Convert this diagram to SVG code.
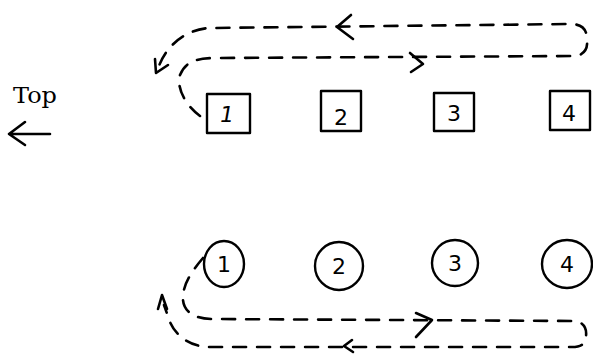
<svg xmlns="http://www.w3.org/2000/svg" width="593" height="355" viewBox="0 0 593 355">
<style>
.box{fill:none;stroke:#000;stroke-width:2.4;stroke-linejoin:round}
.dig{font-family:"DejaVu Sans",sans-serif;font-size:22px;fill:#000;text-anchor:middle}
.dash{fill:none;stroke:#000;stroke-width:2.6;stroke-dasharray:13 11;stroke-linecap:round}
.head{fill:none;stroke:#000;stroke-width:2.6;stroke-linecap:round;stroke-linejoin:round}
.title{font-family:"DejaVu Serif",serif;font-size:23px;fill:#000}
</style>
<rect width="593" height="355" fill="#fff"/>
<g id="legend">
<text class="title" x="13" y="103" textLength="44" lengthAdjust="spacingAndGlyphs">Top</text>
<path class="head" d="M9,134 L50,134 M25,122 L9,134 L25,145"/>
</g>
<g id="box1"><rect class="box" x="207" y="94" width="43" height="39"/><text class="dig" x="226" y="122" transform="skewX(-10) translate(21,0)">1</text></g>
<g id="box2"><rect class="box" x="321" y="91" width="40" height="40"/><text class="dig" x="341" y="125">2</text></g>
<g id="box3"><rect class="box" x="434" y="93" width="40" height="38"/><text class="dig" x="454" y="121">3</text></g>
<g id="box4"><rect class="box" x="550" y="91" width="40" height="39"/><text class="dig" x="569" y="121">4</text></g>
<g id="circle1"><ellipse class="box" cx="224" cy="264" rx="20" ry="23"/><text class="dig" x="224" y="272">1</text></g>
<g id="circle2"><ellipse class="box" cx="339" cy="266" rx="24" ry="24"/><text class="dig" x="339" y="274">2</text></g>
<g id="circle3"><ellipse class="box" cx="455" cy="263" rx="23" ry="23"/><text class="dig" x="455" y="271">3</text></g>
<g id="circle4"><ellipse class="box" cx="567" cy="264" rx="25" ry="24"/><text class="dig" x="567" y="272">4</text></g>
<g id="connectors">
<path class="dash" d="M200,116 C186,106 176,88 180,75 C185,62 196,58 215,58 L575,56 C584,55 588,49 587,40 C587,30 583,24 570,24 L210,28 C186,29 166,46 159,66"/>
<path class="head" d="M155,59 L156,73 L168,65"/>
<path class="head" d="M351,15 L337,27 L353,39"/>
<path class="head" d="M410,53 L423,64 L411,72"/>
<path class="dash" d="M203,258 C191,272 182,286 183,300 C184,312 195,319 212,319 L575,321 C583,322 587,328 586,336 C586,343 582,347 572,347 L210,347 C190,347 176,336 170,322 L164,305"/>
<path class="head" d="M158,309 L162,295 L167,309"/>
<path class="head" d="M416,313 L432,320 L416,337"/>
<path class="head" d="M352,340 L344,346 L353,352"/>
</g>
</svg>
